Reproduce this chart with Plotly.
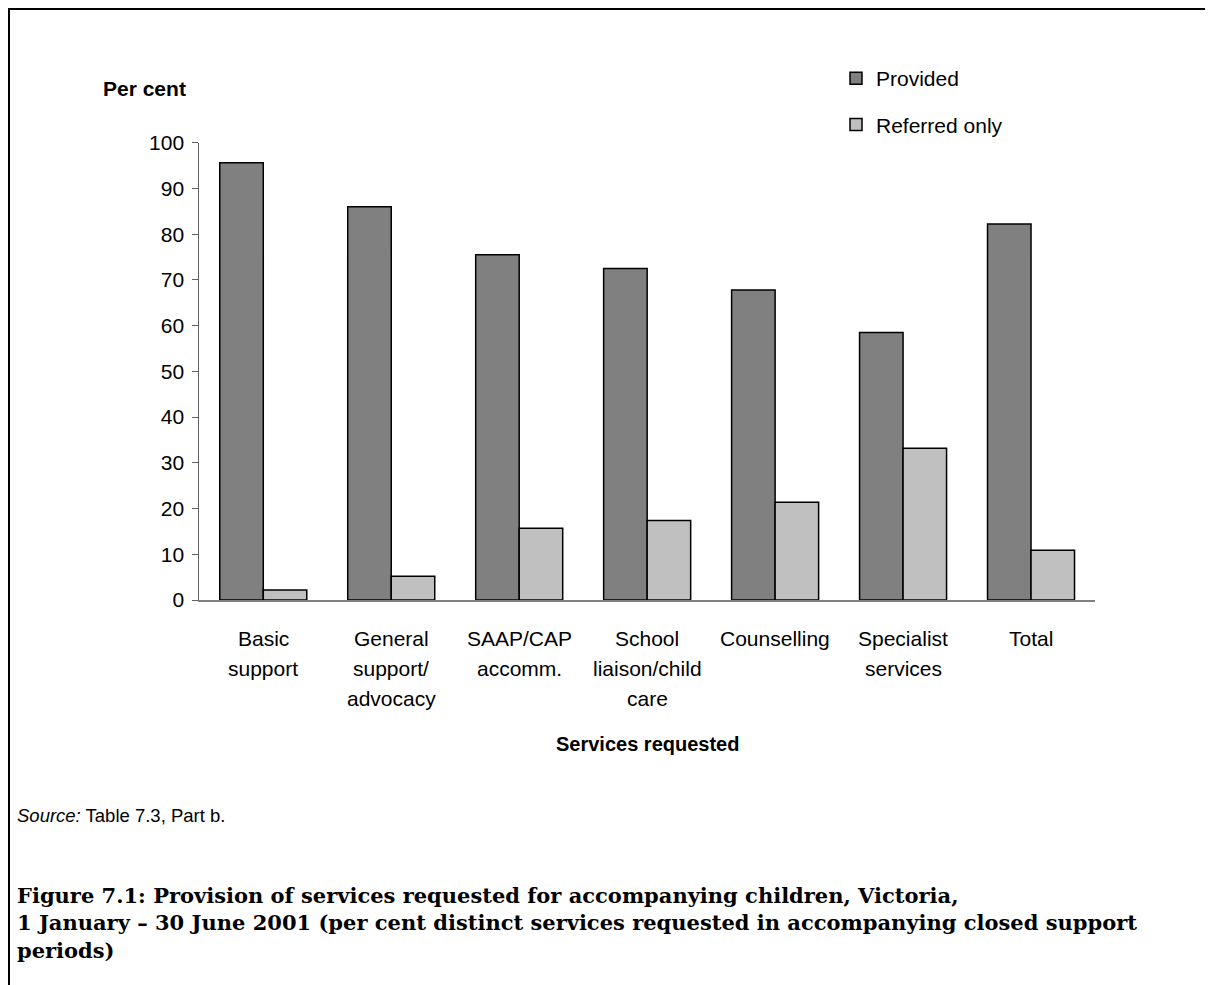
import plotly.graph_objects as go

categories = ["Basic<br>support", "General<br>support/<br>advocacy", "SAAP/CAP<br>accomm.",
              "School<br>liaison/child<br>care", "Counselling", "Specialist<br>services", "Total"]
provided = [95.6, 86.0, 75.5, 72.5, 67.8, 58.5, 82.2]
referred_only = [2.2, 5.2, 15.7, 17.4, 21.4, 33.2, 10.9]
y_ticks = [0, 10, 20, 30, 40, 50, 60, 70, 80, 90, 100]

# the page body has an 8px margin, so the figure starts 8px in
OFF = 8
W, H = 1213, 985
FONT = "Liberation Sans, Arial, sans-serif"


def px(x):
    return (x - OFF) / W


def py(y):
    return 1 - (y - OFF) / H


fig = go.Figure()
fig.add_trace(go.Bar(x=categories, y=provided, name="Provided",
                     marker=dict(color="#808080", line=dict(color="black", width=1.5)),
                     legendgroup="a"))
fig.add_trace(go.Bar(x=categories, y=referred_only, name="Referred only",
                     marker=dict(color="#c0c0c0", line=dict(color="black", width=1.5)),
                     legendgroup="b"))

annotations = []
for cat in categories:
    for i, line in enumerate(cat.split("<br>")):
        annotations.append(dict(x=cat, y=0, xref="x", yref="y", text=line, showarrow=False,
                                xanchor="center", yanchor="middle", yshift=-(38 + 30 * i),
                                font=dict(family=FONT, size=21, color="black")))

annotations += [
    dict(x=px(101), y=py(89), xref="paper", yref="paper", text="<b>Per cent</b>",
         showarrow=False, xanchor="left", yanchor="middle",
         font=dict(family=FONT, size=21, color="black")),
    dict(x=px(647), y=py(744), xref="paper", yref="paper", text="<b>Services requested</b>",
         showarrow=False, xanchor="center", yanchor="middle",
         font=dict(family=FONT, size=20, color="black")),
    dict(x=px(15), y=py(815), xref="paper", yref="paper",
         text="<i>Source:</i> Table 7.3, Part b.",
         showarrow=False, xanchor="left", yanchor="middle",
         font=dict(family=FONT, size=18.5, color="black")),
    dict(x=px(15), y=py(881), xref="paper", yref="paper",
         text="<b>Figure 7.1: Provision of services requested for accompanying children, Victoria,<br>"
              "1 January – 30 June 2001 (per cent distinct services requested in accompanying closed support<br>"
              "periods)</b>",
         showarrow=False, xanchor="left", yanchor="top", align="left",
         font=dict(family="DejaVu Serif, serif", size=21, color="black")),
]

fig.update_layout(
    template="none",
    width=W, height=H, autosize=False,
    margin=dict(l=0, r=0, t=0, b=0, pad=0),
    paper_bgcolor="white", plot_bgcolor="white",
    barmode="group", bargap=0.32, bargroupgap=0,
    showlegend=True,
    legend=dict(x=px(836), y=py(58), xanchor="left", yanchor="top",
                traceorder="grouped", tracegroupgap=16,
                font=dict(family=FONT, size=21, color="black"),
                bgcolor="rgba(0,0,0,0)", itemclick=False),
    xaxis=dict(domain=[px(199.3), px(1095)], showticklabels=False, ticks="",
               showline=True, linecolor="#808080", linewidth=1.5, showgrid=False,
               zeroline=False, fixedrange=True, automargin=False),
    yaxis=dict(domain=[py(600), py(142.7)], range=[0, 100], tickvals=y_ticks,
               ticks="outside", ticklen=6, tickcolor="#606060", tickwidth=1,
               showline=True, linecolor="#606060", linewidth=1, showgrid=False,
               zeroline=False, tickfont=dict(family=FONT, size=21, color="black"),
               ticklabelstandoff=4, automargin=False),
    annotations=annotations,
    shapes=[dict(type="rect", xref="paper", yref="paper",
                 x0=px(9), x1=px(1211.5), y0=-0.05, y1=py(9),
                 line=dict(color="black", width=2), fillcolor="rgba(0,0,0,0)")],
)

fig.write_html("out.html", config={"displayModeBar": False})
